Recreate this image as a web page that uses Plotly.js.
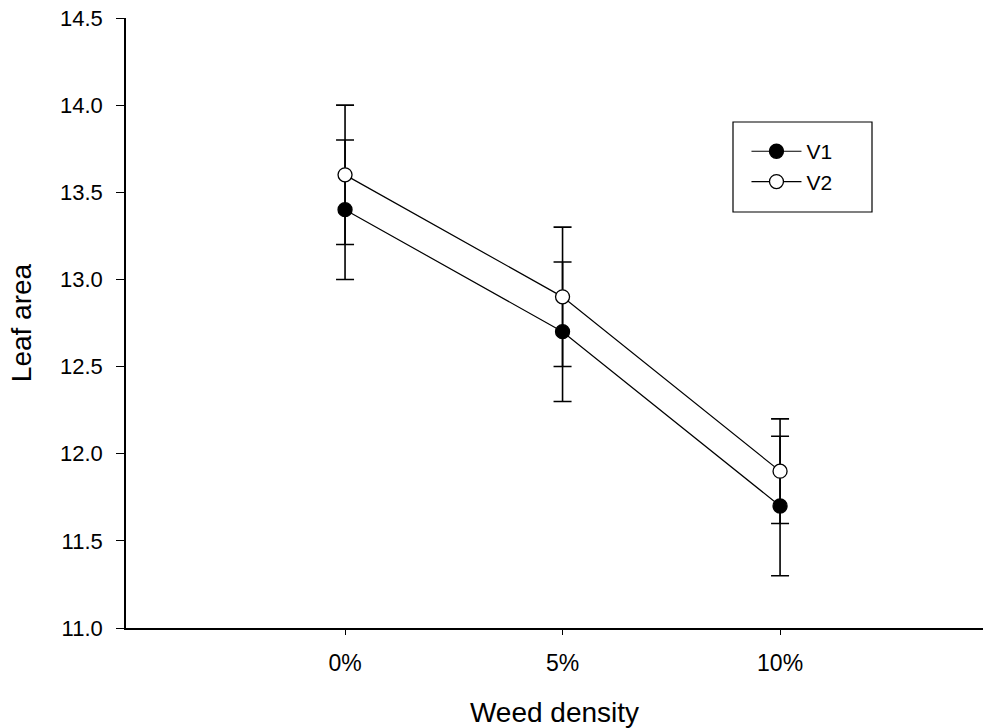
<!DOCTYPE html>
<html><head><meta charset="utf-8">
<script src="https://cdn.plot.ly/plotly-3.0.1.min.js"></script>
<style>body{margin:0;background:#fff}#c{width:983px;height:728px}</style>
</head><body><div id="c"></div>
<script>
const categories = ["0%", "5%", "10%"];
const v1 = [13.4, 12.7, 11.7];
const v1Err = [0.4, 0.4, 0.4];
const v2 = [13.6, 12.9, 11.9];
const v2Err = [0.4, 0.4, 0.3];
const yTicks = [11.0, 11.5, 12.0, 12.5, 13.0, 13.5, 14.0, 14.5];

const xIdx = categories.map((c, i) => i);
function trace(name, y, err, fill) {
  return {
    type: 'scatter', mode: 'lines+markers', name: name,
    x: xIdx, y: y,
    line: {color: '#000', width: 1.2},
    marker: {size: 14, color: fill, line: {color: '#000', width: 1.3}},
    error_y: {type: 'data', array: err, visible: true, color: '#000', thickness: 1.6, width: 9}
  };
}
const data = [trace('V1', v1, v1Err, '#000'), trace('V2', v2, v2Err, '#fff')];
const layout = {
  width: 983, height: 728,
  margin: {l: 126, r: 0, t: 18, b: 100},
  paper_bgcolor: '#fff', plot_bgcolor: '#fff',
  font: {family: 'Liberation Sans, Arial, sans-serif', color: '#000', size: 22},
  showlegend: true,
  legend: {x: 0.724, y: 0.8146, xanchor: 'left', yanchor: 'top', bgcolor: 'rgba(0,0,0,0)',
           borderwidth: 0, font: {size: 21}, itemwidth: 50},
  shapes: [{type: 'rect', xref: 'paper', yref: 'paper',
            x0: (733 - 126) / 857, x1: (872 - 126) / 857,
            y0: (628 - 212) / 610, y1: (628 - 122) / 610,
            line: {color: '#000', width: 1.2}, fillcolor: '#fff', layer: 'below'}],
  xaxis: {
    range: [-1.007, 2.933], tickmode: 'array', tickvals: xIdx, ticktext: categories,
    showgrid: false, zeroline: false, showline: true, linecolor: '#000', linewidth: 1.6,
    ticks: 'outside', ticklen: 5, tickcolor: '#000', ticklabelstandoff: 9,
    tickfont: {size: 23},
    title: {text: 'Weed density', font: {size: 28}, standoff: 27}
  },
  yaxis: {
    range: [11.0, 14.5], tickmode: 'array', tickvals: yTicks,
    ticktext: yTicks.map(v => v.toFixed(1)),
    showgrid: false, zeroline: false, showline: true, linecolor: '#000', linewidth: 1.6,
    ticks: 'outside', ticklen: 8, tickcolor: '#000', ticklabelstandoff: 9,
    tickfont: {size: 22},
    title: {text: 'Leaf area', font: {size: 28}, standoff: 20}
  }
};
Plotly.newPlot('c', data, layout, {displayModeBar: false});
</script></body></html>
